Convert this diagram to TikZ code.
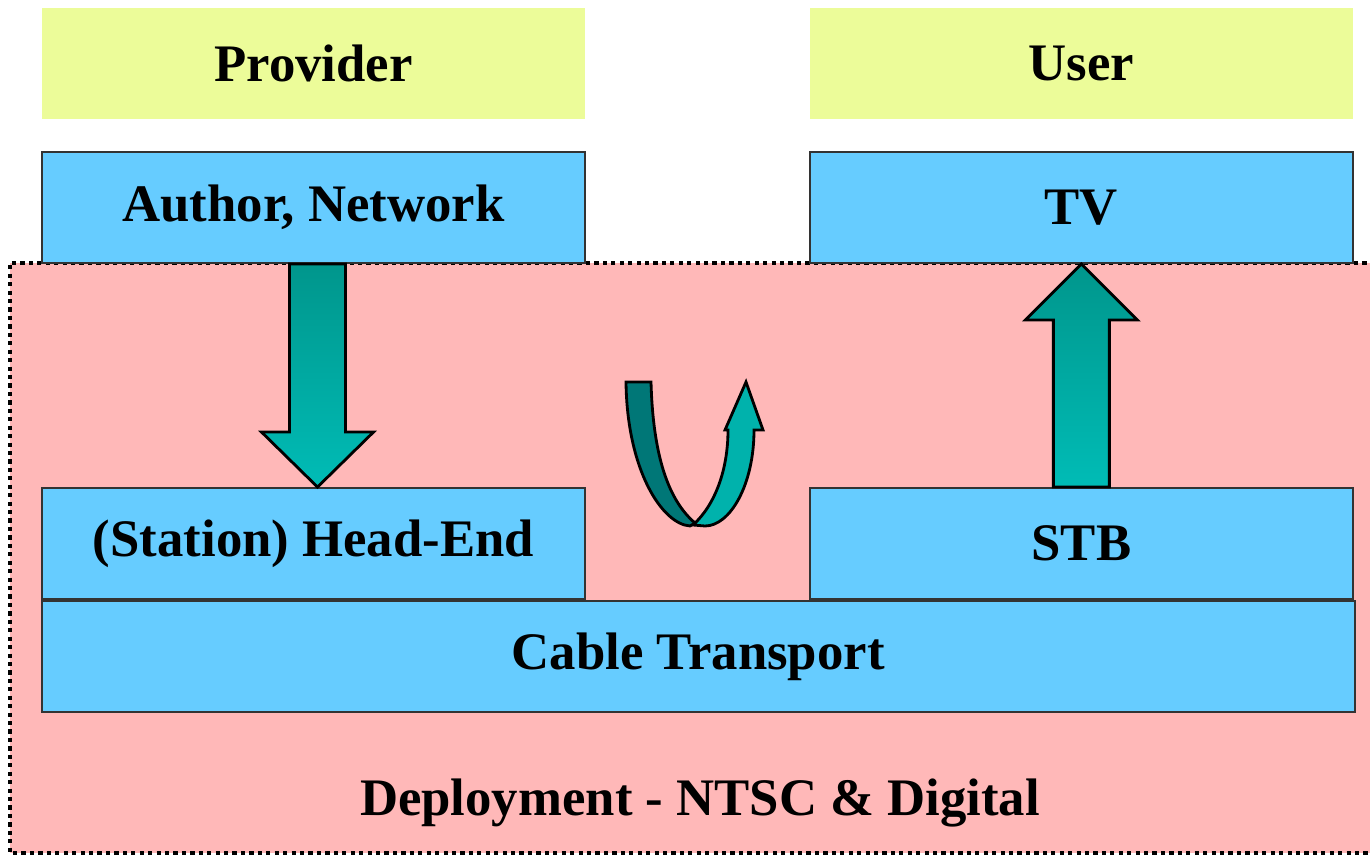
\documentclass[tikz,border=0pt]{standalone}
\usepackage{fontspec}
\setmainfont{Liberation Serif}
\usetikzlibrary{calc, positioning}

\definecolor{boxblue}{RGB}{102,204,255}
\definecolor{tagyellow}{RGB}{236,252,153}
\definecolor{deploypink}{RGB}{255,184,184}
\definecolor{arrowtop}{RGB}{0,150,140}
\definecolor{arrowbot}{RGB}{0,188,182}
\definecolor{bandgreen}{RGB}{0,119,119}
\definecolor{bandlight}{RGB}{0,178,172}

\begin{document}
\begin{tikzpicture}[x=0.01cm, y=-0.01cm, font=\fontsize{15}{18}\selectfont\bfseries]
          % Estilos de los bloques y flechas
          \tikzstyle{tag} = [fill=tagyellow, minimum width=5.43cm, minimum height=1.11cm, inner sep=0pt]
          \tikzstyle{block} = [draw=black!80, line width=0.6pt, fill=boxblue, minimum width=5.43cm, minimum height=1.11cm, inner sep=0pt]
          \tikzstyle{bigarrow} = [draw=black, line width=0.8pt, top color=arrowtop, bottom color=arrowbot]
          \tikzstyle{band} = [draw=black, line width=0.8pt]

          \useasboundingbox (0,0) rectangle (1370,855);

          % Zona de despliegue
          \fill[deploypink] (10,263) rectangle (1375,853);
          \draw[line width=1.2pt, dash pattern=on 1.2pt off 1.2pt] (1375,263) -- (10,263) -- (10,853) -- (1375,853);

          % Nodos
          \node[tag] at (313.5,63.5) (provider) {Provider};
          \node[tag, right=2.23cm of provider] (user) {User};
          \node[block, below=0.31cm of provider] (author) {Author, Network};
          \node[block, below=0.31cm of user] (tv) {TV};
          \node[block, below=2.23cm of author] (headend) {(Station) Head-End};
          \node[block, below=2.23cm of tv] (stb) {STB};
          \node[block, minimum width=13.12cm, anchor=north west] at (headend.south west) (cable) {Cable Transport};
          \node at (700,803) (deploy) {Deployment - NTSC \& Digital};

          % Flechas
          \coordinate (downtop) at ($(author.south)+(4,0)$);
          \coordinate (downtip) at ($(headend.north)+(4,0)$);
          \draw[bigarrow] ($(downtop)+(-28,0)$) -- ($(downtop)+(28,0)$) -- ($(downtip)+(28,-55)$)
            -- ($(downtip)+(56,-55)$) -- (downtip) -- ($(downtip)+(-56,-55)$) -- ($(downtip)+(-28,-55)$) -- cycle;
          \draw[bigarrow] ($(stb.north)+(-28,0)$) -- ($(stb.north)+(28,0)$) -- ($(tv.south)+(28,56)$)
            -- ($(tv.south)+(56,56)$) -- (tv.south) -- ($(tv.south)+(-56,56)$) -- ($(tv.south)+(-28,56)$) -- cycle;

          % Flecha en U
          \filldraw[band, fill=bandgreen] (626,382) -- (651,382) .. controls (653,455) and (668,500) .. (695,523)
            -- (690,526) .. controls (662,524) and (627,470) .. cycle;
          \filldraw[band, fill=bandlight] (693,525) .. controls (715,505) and (728,470) .. (728,430) -- (725,430)
            -- (746,382) -- (763,430) -- (754,430) .. controls (754,485) and (730,526) .. (705,526) -- cycle;
        \end{tikzpicture}
\end{document}
